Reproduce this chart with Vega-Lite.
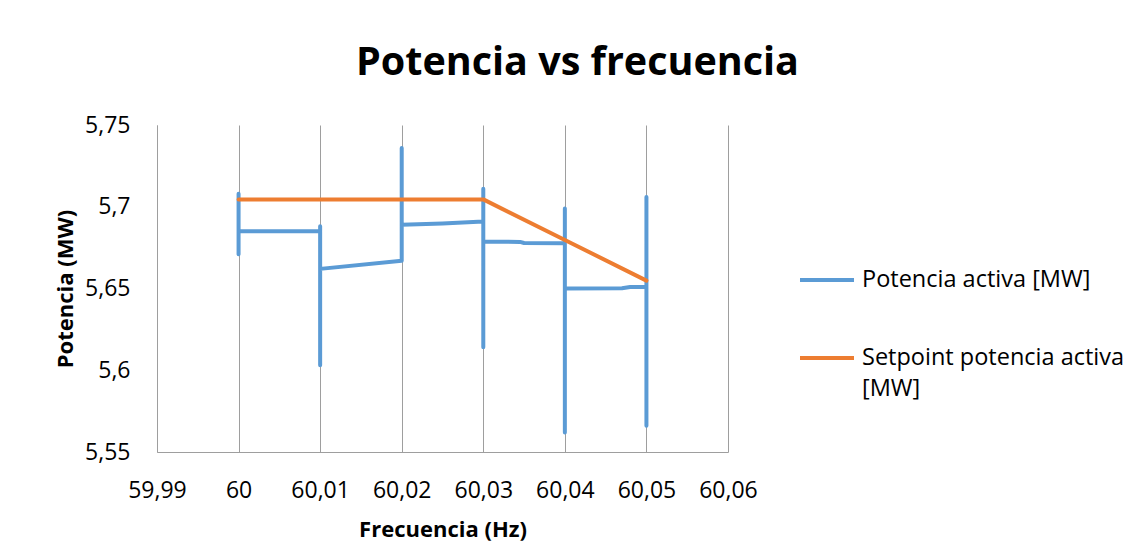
{
  "$schema": "https://vega.github.io/schema/vega-lite/v6.json",
  "width": 571,
  "height": 327,
  "autosize": {"type": "none"},
  "padding": {"left": 157, "top": 125, "right": 411, "bottom": 103},
  "background": "white",
  "title": {
    "text": "Potencia vs frecuencia",
    "font": "Open Sans",
    "fontSize": 39.5,
    "fontWeight": "bold",
    "color": "#000000",
    "anchor": "middle",
    "dx": 135,
    "offset": 31
  },
  "data": {
    "values": [
      {"serie": "Potencia activa [MW]", "i": 1, "f": 60, "p": 5.708},
      {"serie": "Potencia activa [MW]", "i": 2, "f": 60, "p": 5.671},
      {"serie": "Potencia activa [MW]", "i": 3, "f": 60, "p": 5.685},
      {"serie": "Potencia activa [MW]", "i": 4, "f": 60.01, "p": 5.685},
      {"serie": "Potencia activa [MW]", "i": 5, "f": 60.01, "p": 5.688},
      {"serie": "Potencia activa [MW]", "i": 6, "f": 60.01, "p": 5.603},
      {"serie": "Potencia activa [MW]", "i": 7, "f": 60.01, "p": 5.662},
      {"serie": "Potencia activa [MW]", "i": 8, "f": 60.02, "p": 5.667},
      {"serie": "Potencia activa [MW]", "i": 9, "f": 60.02, "p": 5.736},
      {"serie": "Potencia activa [MW]", "i": 10, "f": 60.02, "p": 5.689},
      {"serie": "Potencia activa [MW]", "i": 11, "f": 60.025, "p": 5.6898},
      {"serie": "Potencia activa [MW]", "i": 12, "f": 60.03, "p": 5.691},
      {"serie": "Potencia activa [MW]", "i": 13, "f": 60.03, "p": 5.711},
      {"serie": "Potencia activa [MW]", "i": 14, "f": 60.03, "p": 5.614},
      {"serie": "Potencia activa [MW]", "i": 15, "f": 60.03, "p": 5.6788},
      {"serie": "Potencia activa [MW]", "i": 16, "f": 60.0345, "p": 5.6785},
      {"serie": "Potencia activa [MW]", "i": 17, "f": 60.035, "p": 5.6778},
      {"serie": "Potencia activa [MW]", "i": 18, "f": 60.04, "p": 5.6776},
      {"serie": "Potencia activa [MW]", "i": 19, "f": 60.04, "p": 5.699},
      {"serie": "Potencia activa [MW]", "i": 20, "f": 60.04, "p": 5.562},
      {"serie": "Potencia activa [MW]", "i": 21, "f": 60.04, "p": 5.65},
      {"serie": "Potencia activa [MW]", "i": 22, "f": 60.047, "p": 5.6502},
      {"serie": "Potencia activa [MW]", "i": 23, "f": 60.048, "p": 5.6509},
      {"serie": "Potencia activa [MW]", "i": 24, "f": 60.05, "p": 5.6511},
      {"serie": "Potencia activa [MW]", "i": 25, "f": 60.05, "p": 5.706},
      {"serie": "Potencia activa [MW]", "i": 26, "f": 60.05, "p": 5.566},
      {"serie": "Setpoint potencia activa [MW]", "i": 1, "f": 60, "p": 5.7045},
      {"serie": "Setpoint potencia activa [MW]", "i": 2, "f": 60.03, "p": 5.7045},
      {"serie": "Setpoint potencia activa [MW]", "i": 3, "f": 60.04, "p": 5.6797},
      {"serie": "Setpoint potencia activa [MW]", "i": 4, "f": 60.05, "p": 5.6548}
    ]
  },
  "mark": {"type": "line", "strokeWidth": 4, "strokeCap": "round", "strokeJoin": "round"},
  "encoding": {
    "x": {
      "field": "f",
      "type": "quantitative",
      "scale": {"domain": [59.99, 60.06], "nice": false, "zero": false},
      "axis": {
        "values": [59.99, 60, 60.01, 60.02, 60.03, 60.04, 60.05, 60.06],
        "labelExpr": "replace(format(datum.value, '.2~f'), '.', ',')",
        "labelFlush": false,
        "title": "Frecuencia (Hz)",
        "grid": true,
        "gridColor": "#9e9e9e",
        "gridWidth": 1,
        "domainColor": "#9e9e9e",
        "ticks": false,
        "labelPadding": 27,
        "titlePadding": 17
      }
    },
    "y": {
      "field": "p",
      "type": "quantitative",
      "scale": {"domain": [5.55, 5.75], "nice": false, "zero": false},
      "axis": {
        "values": [5.55, 5.6, 5.65, 5.7, 5.75],
        "labelExpr": "replace(format(datum.value, '.2~f'), '.', ',')",
        "title": "Potencia (MW)",
        "grid": false,
        "domainColor": "#9e9e9e",
        "ticks": false,
        "labelPadding": 27,
        "titlePadding": 7
      }
    },
    "color": {
      "field": "serie",
      "type": "nominal",
      "scale": {
        "domain": ["Potencia activa [MW]", "Setpoint potencia activa [MW]"],
        "range": ["#5B9BD5", "#ED7D31"]
      },
      "legend": {
        "title": null,
        "orient": "none",
        "legendX": 641,
        "legendY": 126,
        "padding": 0,
        "symbolType": "stroke",
        "symbolStrokeWidth": 4,
        "symbolSize": 2916,
        "labelFontSize": 23.5,
        "labelFont": "Open Sans",
        "labelColor": "#000000",
        "labelOffset": 6,
        "labelLimit": 400,
        "rowPadding": 37,
        "labelExpr": "datum.label == 'Setpoint potencia activa [MW]' ? ['Setpoint potencia activa', '[MW]'] : datum.label",
        "encode": {"labels": {"update": {"lineHeight": {"value": 31}}}}
      }
    },
    "order": {"field": "i", "type": "quantitative"}
  },
  "config": {
    "view": {"stroke": null},
    "axis": {
      "labelFont": "Open Sans",
      "labelFontSize": 23,
      "labelColor": "#000000",
      "titleFont": "Open Sans",
      "titleFontSize": 22,
      "titleFontWeight": "bold",
      "titleColor": "#000000"
    }
  }
}
